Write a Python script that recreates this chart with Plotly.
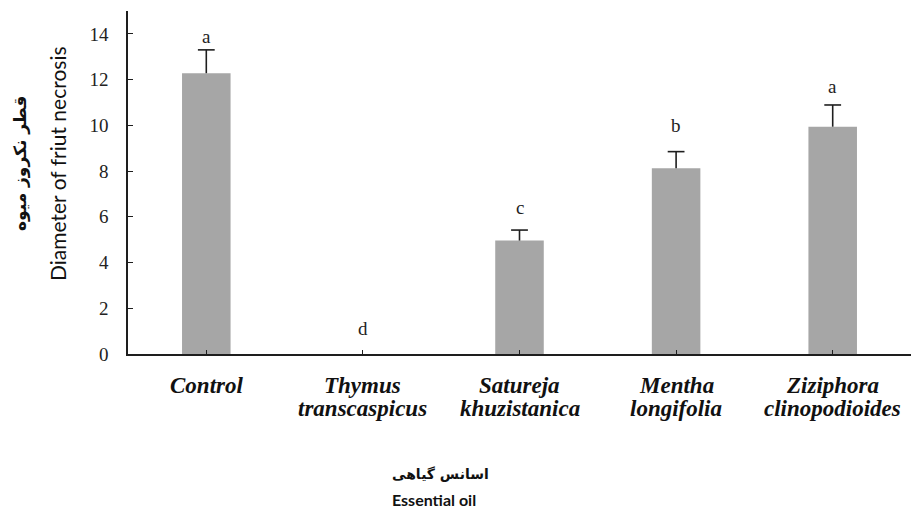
import plotly.graph_objects as go

# Essential oil treatments (two-line italic names) and measured necrosis diameter
line1 = ["Control", "Thymus", "Satureja", "Mentha", "Ziziphora"]
line2 = ["", "transcaspicus", "khuzistanica", "longifolia", "clinopodioides"]
mean_diameter = [12.28, 0.0, 4.96, 8.12, 9.94]
std_error = [1.02, 0.0, 0.46, 0.73, 0.95]
groups = ["a", "d", "c", "b", "a"]
y_ticks = [0, 2, 4, 6, 8, 10, 12, 14]

x_pos = list(range(len(line1)))
serif = "Liberation Serif, Times New Roman, serif"
ink = "#1e1e1e"

W, H = 911, 513
L, R, T, B = 128, 0, 11, 159
pw, ph = W - L - R, H - T - B


def px_to_paper(xp, yp):
    return (xp - L) / pw, (H - B - yp) / ph


fig = go.Figure()
fig.add_trace(go.Bar(
    x=x_pos,
    y=mean_diameter,
    marker=dict(color="#a6a6a6", line=dict(width=0)),
    width=0.31,
    showlegend=False,
    hoverinfo="skip",
))

# upper-only error whiskers: stem from the bar top to mean + SE, with a cap
stem_x, stem_y, cap_x, cap_y = [], [], [], []
for xi, m, s in zip(x_pos, mean_diameter, std_error):
    if s > 0:
        stem_x += [xi, xi, None]
        stem_y += [m, m + s, None]
        cap_x.append(xi)
        cap_y.append(m + s)
fig.add_trace(go.Scatter(x=stem_x, y=stem_y, mode="lines",
                         line=dict(color=ink, width=1.6), showlegend=False,
                         hoverinfo="skip"))
fig.add_trace(go.Scatter(x=cap_x, y=cap_y, mode="markers",
                         marker=dict(symbol="line-ew", size=12,
                                     line=dict(color=ink, width=1.6)),
                         showlegend=False, hoverinfo="skip"))

# significance letters above each bar
letter_gap = [13, 26, 23, 26, 18]
for xi, m, s, g, gap in zip(x_pos, mean_diameter, std_error, groups, letter_gap):
    fig.add_annotation(x=xi, y=m + s, text=g, showarrow=False, yanchor="middle",
                       yshift=gap, font=dict(family=serif, size=19, color=ink))

# category labels under the axis
for xi, a, b in zip(x_pos, line1, line2):
    fig.add_annotation(x=xi, y=0, text=f"<b><i>{a}</i></b>", showarrow=False,
                       yanchor="middle", yshift=-31,
                       font=dict(family=serif, size=23, color="#111111"))
    if b:
        fig.add_annotation(x=xi, y=0, text=f"<b><i>{b}</i></b>", showarrow=False,
                           yanchor="middle", yshift=-54,
                           font=dict(family=serif, size=23, color="#111111"))


def title(xp, yp, text, family, size, angle=0):
    px, py = px_to_paper(xp, yp)
    fig.add_annotation(x=px, y=py, xref="paper", yref="paper", xanchor="center",
                       yanchor="middle", text=text, textangle=angle, showarrow=False,
                       font=dict(family=family, size=size, color="#111111"))


# axis titles (Persian and English)
title(21, 164, "<b>قطر نکروز میوه</b>", "DejaVu Sans, Noto Sans", 17, -90)
title(58, 164, "Diameter of friut necrosis", "Lato, Open Sans", 21, -90)
title(440, 474, "<b>اسانس گیاهی</b>", "DejaVu Sans, Noto Sans", 14)
title(434, 499, "<b>Essential oil</b>", "Lato, Open Sans", 16)

fig.update_layout(
    width=W, height=H,
    margin=dict(l=L, r=R, t=T, b=B, pad=0),
    paper_bgcolor="white", plot_bgcolor="white",
    bargap=0.69,
    xaxis=dict(range=[-0.5, 4.5], tickvals=x_pos, showticklabels=False,
               ticks="inside", ticklen=4, tickcolor=ink, tickwidth=1.2,
               showline=True, linecolor=ink, linewidth=1.5,
               showgrid=False, zeroline=False, fixedrange=True),
    yaxis=dict(range=[0, 15], tickvals=y_ticks, ticks="inside", ticklen=5,
               tickcolor=ink, tickwidth=1.2, showline=True,
               linecolor=ink, linewidth=1.5, showgrid=False, zeroline=False,
               ticklabelstandoff=14,
               tickfont=dict(family=serif, size=19, color="#222222")),
)

fig.write_html("out.html")
